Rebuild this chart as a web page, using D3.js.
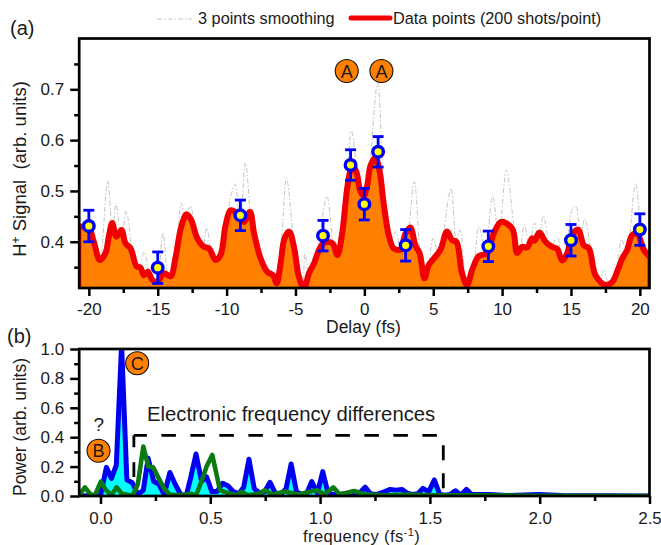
<!DOCTYPE html>
<html>
<head>
<meta charset="utf-8">
<script src="https://cdn.jsdelivr.net/npm/d3@7"></script>
<style>
body{margin:0;background:#fff;}
text{font-family:"Liberation Sans",Arial,sans-serif;fill:#1a1a1a;}
</style>
</head>
<body>
<div id="chart"></div>
<script>
// panel (a): data points
var redDelay = [-20.73,-20,-19.64,-19.2,-18.79,-18.55,-18.3,-18,-17.63,-17.34,-16.97,-16.54,-16.25,-16,-15.71,-15.4,-15.04,-14.55,-14.07,-13.7,-13.29,-12.9,-12.57,-12.13,-11.65,-11.28,-10.8,-10.44,-10.07,-9.71,-9.23,-8.74,-8.31,-8,-7.53,-7.05,-6.63,-6.37,-6.08,-5.79,-5.45,-5.11,-4.75,-4.38,-4.02,-3.66,-3.29,-2.93,-2.32,-1.96,-1.62,-1.26,-1,-0.8,-0.55,-0.3,-0.05,0.2,0.45,0.8,1.1,1.4,1.77,2.13,2.62,2.98,3.34,3.7,4.02,4.36,4.67,5.04,5.52,6,6.37,6.68,7.09,7.46,7.82,8.31,8.91,9.39,9.93,10.73,11.09,11.45,11.82,12.18,12.35,12.71,13.15,13.63,14,14.36,14.72,15.08,15.52,15.93,16.3,16.78,17.51,18,18.35,18.72,19.08,19.44,19.81,20.29,20.73];
var redSignal = [0.43,0.426,0.4,0.364,0.378,0.41,0.437,0.41,0.423,0.397,0.387,0.352,0.349,0.334,0.341,0.325,0.321,0.338,0.332,0.37,0.43,0.454,0.443,0.407,0.39,0.387,0.364,0.374,0.433,0.462,0.456,0.439,0.459,0.416,0.367,0.341,0.334,0.318,0.357,0.407,0.42,0.39,0.331,0.308,0.338,0.357,0.384,0.398,0.397,0.374,0.415,0.502,0.541,0.548,0.535,0.5,0.49,0.51,0.55,0.566,0.54,0.476,0.413,0.387,0.385,0.416,0.428,0.393,0.377,0.328,0.354,0.367,0.384,0.42,0.403,0.4,0.338,0.315,0.344,0.372,0.377,0.416,0.439,0.426,0.378,0.39,0.389,0.407,0.402,0.418,0.4,0.39,0.386,0.363,0.377,0.413,0.424,0.393,0.387,0.334,0.315,0.321,0.341,0.367,0.384,0.413,0.416,0.384,0.37];
var grayDelay = [-20.73,-20.63,-20.2,-19.2,-18.62,-18.3,-18.02,-17.65,-17.3,-16.8,-16.4,-15.99,-15.5,-15,-14.63,-14.2,-13.7,-13.3,-12.95,-12.63,-12.1,-11.75,-11.44,-11,-10.4,-9.9,-9.36,-9,-8.64,-8.2,-7.6,-6.6,-6.1,-5.66,-5.2,-4.75,-4.45,-4.33,-4,-3.4,-2.71,-2.2,-1.96,-1.4,-0.94,-0.4,0,0.4,0.97,1.5,1.9,2.25,2.7,3.2,3.63,4.1,4.5,4.99,5.4,6.32,6.65,6.97,7.4,7.9,8.3,8.8,9.32,9.75,10.31,10.9,11.2,11.62,11.95,12.35,12.65,12.98,13.5,14.04,14.4,15.08,15.38,15.7,16,16.5,17,17.38,17.8,18.3,18.64,19.1,19.68,20.2,20.73];
var graySignal = [0.42,0.449,0.4,0.35,0.521,0.42,0.476,0.4,0.461,0.37,0.34,0.38,0.32,0.31,0.418,0.32,0.36,0.476,0.44,0.471,0.39,0.38,0.427,0.36,0.36,0.46,0.513,0.44,0.556,0.43,0.35,0.32,0.37,0.525,0.42,0.32,0.31,0.378,0.33,0.38,0.489,0.38,0.36,0.47,0.618,0.5,0.47,0.55,0.712,0.45,0.39,0.42,0.38,0.42,0.518,0.36,0.33,0.407,0.37,0.505,0.4,0.423,0.31,0.34,0.43,0.38,0.492,0.41,0.541,0.42,0.37,0.433,0.39,0.437,0.4,0.451,0.39,0.41,0.35,0.462,0.47,0.41,0.446,0.37,0.32,0.344,0.31,0.33,0.405,0.38,0.515,0.39,0.36];
var markerDelay = [-20,-15,-9,-3,-1,0,1,3,9,15,20];
var markerSignal = [0.431,0.349,0.452,0.412,0.551,0.474,0.577,0.393,0.391,0.403,0.424];
var markerErr = [0.031,0.031,0.03,0.03,0.03,0.031,0.03,0.031,0.03,0.031,0.031];

// panel (b): spectra
var blueFreq = [-0.1,0,0.027,0.05,0.072,0.096,0.12,0.145,0.17,0.195,0.217,0.242,0.266,0.29,0.316,0.34,0.365,0.39,0.41,0.435,0.46,0.483,0.507,0.53,0.556,0.58,0.605,0.63,0.652,0.676,0.7,0.725,0.748,0.772,0.796,0.82,0.845,0.868,0.892,0.916,0.94,0.962,0.988,1.012,1.036,1.06,1.085,1.11,1.157,1.18,1.205,1.23,1.255,1.295,1.319,1.345,1.372,1.396,1.42,1.445,1.468,1.495,1.52,1.545,1.57,1.592,1.616,1.64,1.666,1.69,1.77,1.85,1.995,2.1,2.5];
var bluePower = [0,0.005,0.195,0.12,0.21,1.03,0.11,0.09,0.01,0.04,0.257,0.1,0.08,0.01,0.16,0.08,0.01,0,0.12,0.286,0.1,0.13,0.03,0.03,0.086,0.07,0.03,0.015,0.06,0.25,0.05,0.02,0.03,0.093,0.02,0.01,0.05,0.218,0.03,0.01,0.02,0.098,0.02,0.166,0.02,0.01,0.01,0.015,0.01,0.02,0.06,0.015,0.01,0.03,0.045,0.04,0.045,0.02,0.01,0.015,0.052,0.03,0.109,0.01,0.005,0.01,0.036,0.005,0.045,0.01,0.01,0.004,0.01,0.003,0];
var greenFreq = [-0.1,-0.071,-0.045,-0.025,0.0015,0.025,0.05,0.073,0.097,0.12,0.145,0.17,0.195,0.218,0.24,0.265,0.29,0.315,0.36,0.41,0.435,0.46,0.483,0.509,0.544,0.58,0.62,0.643,0.67,0.72,0.749,0.78,0.84,0.9,0.985,1.02,1.06,1.09,1.155,1.2,1.3,1.4,1.5,1.7,2,2.5];
var greenPower = [0,0.059,0.01,0.005,0.098,0.04,0.005,0.059,0.015,0.01,0,0.08,0.336,0.2,0.195,0.12,0.05,0.01,0.005,0.015,0.005,0.1,0.2,0.279,0.04,0.02,0.005,0.03,0.005,0.015,0.04,0.01,0.03,0.01,0.04,0.012,0.059,0.01,0.034,0.012,0.005,0.01,0.005,0.005,0.002,0];

// tick labels
var xTicksA = [-20,-15,-10,-5,0,5,10,15,20];
var xMinorA = [-17.5,-12.5,-7.5,-2.5,2.5,7.5,12.5,17.5];
var yTicksA = [0.4,0.5,0.6,0.7];
var yMinorA = [0.35,0.45,0.55,0.65,0.75];
var xTicksB = [0,0.5,1,1.5,2,2.5];
var xMinorB = [0.25,0.75,1.25,1.75,2.25];
var yTicksB = [0,0.2,0.4,0.6,0.8,1];
var yMinorB = [0.1,0.3,0.5,0.7,0.9];

// circled letters and the dashed bracket, in data units
var labelsA = [{t:"A",x:-1.28,y:0.736},{t:"A",x:1.24,y:0.736}];
var labelsB = [{t:"B",x:-0.009,y:0.308},{t:"C",x:0.167,y:0.903}];
var bracketLeftF = 0.152, bracketRightF = 1.561, bracketTop = 0.413, bracketLeftEnd = 0.13, bracketRightEnd = 0.05;

var w = 661, h = 545;
var svg = d3.select("#chart").append("svg").attr("width",w).attr("height",h).style("display","block");
var orange = "#ff8000";

var xa = d3.scaleLinear().domain([-20.7,20.7]).range([79.2,649.5]);
var ya = d3.scaleLinear().domain([0.309,0.8]).range([288,38.5]);
var xb = d3.scaleLinear().domain([-0.097,2.5]).range([79.2,649.5]);
var yb = d3.scaleLinear().domain([0,1]).range([496,349]);

var defs = svg.append("defs");
defs.append("clipPath").attr("id","clipA").append("rect").attr("x",79.2).attr("y",38.5).attr("width",570.3).attr("height",249.5);
defs.append("clipPath").attr("id","clipB").append("rect").attr("x",79.2).attr("y",349).attr("width",570.3).attr("height",147);

function pairs(a,b){ return a.map(function(d,i){ return [d,b[i]]; }); }

function drawAxes(x,y,xT,xM,yT,yM,fmtX,labelPad){
	var top = y.range()[1], bottom = y.range()[0];
	var ax = svg.append("g").attr("class","axis");
	ax.append("g").attr("transform","translate(0,"+bottom+")")
		.call(d3.axisBottom(x).tickValues(xT).tickSize(8).tickPadding(labelPad).tickFormat(fmtX));
	ax.append("g").attr("transform","translate(0,"+bottom+")")
		.call(d3.axisBottom(x).tickValues(xM).tickSize(5).tickFormat(""));
	ax.append("g").attr("transform","translate("+x.range()[0]+",0)")
		.call(d3.axisLeft(y).tickValues(yT).tickSize(9).tickPadding(6).tickFormat(d3.format(".1f")));
	ax.append("g").attr("transform","translate("+x.range()[0]+",0)")
		.call(d3.axisLeft(y).tickValues(yM).tickSize(5).tickFormat(""));
	ax.selectAll(".domain").remove();
	ax.selectAll("line").attr("stroke","#000").attr("stroke-width",2.5);
	ax.selectAll("text").attr("font-size",17).attr("fill","#1a1a1a").attr("font-family",'"Liberation Sans",Arial,sans-serif');
	svg.append("rect").attr("x",x.range()[0]).attr("y",top)
		.attr("width",x.range()[1]-x.range()[0]).attr("height",bottom-top)
		.attr("fill","none").attr("stroke","#000").attr("stroke-width",2.7);
}

function circled(list,x,y){
	var g = svg.append("g").selectAll("g").data(list).enter().append("g")
		.attr("transform",function(d){ return "translate("+x(d.x)+","+y(d.y)+")"; });
	g.append("circle").attr("r",11.5).attr("fill",orange).attr("stroke","#111").attr("stroke-width",1.1);
	g.append("text").attr("text-anchor","middle").attr("y",6.5).attr("font-size",18).text(function(d){ return d.t; });
}

// --- panel a ---
var redData = pairs(redDelay,redSignal);
var plotA = svg.append("g").attr("clip-path","url(#clipA)");
plotA.append("path").datum(pairs(grayDelay,graySignal))
	.attr("d",d3.line().x(function(d){return xa(d[0]);}).y(function(d){return ya(d[1]);}).curve(d3.curveMonotoneX))
	.attr("fill","none").attr("stroke","#c4c4c4").attr("stroke-width",1).attr("stroke-dasharray","5,2,1.5,2");
plotA.append("path").datum(redData)
	.attr("d",d3.area().x(function(d){return xa(d[0]);}).y0(ya(0.309)).y1(function(d){return ya(d[1]);}).curve(d3.curveCatmullRom))
	.attr("fill",orange);
plotA.append("path").datum(redData)
	.attr("d",d3.line().x(function(d){return xa(d[0]);}).y(function(d){return ya(d[1]);}).curve(d3.curveCatmullRom))
	.attr("fill","none").attr("stroke","#f00000").attr("stroke-width",6).attr("stroke-linejoin","round");
// the outline also drops down both edges of the frame
[[redDelay[0],redSignal[0]],[redDelay[redDelay.length-1],redSignal[redSignal.length-1]]].forEach(function(e){
	plotA.append("line").attr("x1",xa(e[0])).attr("x2",xa(e[0])).attr("y1",ya(e[1])).attr("y2",ya(0.309))
		.attr("stroke","#f00000").attr("stroke-width",5);
});

// plain hyphen on the negative delays, as in the original
drawAxes(xa,ya,xTicksA,xMinorA,yTicksA,yMinorA,function(d){ return String(d); },6.5);

var mk = svg.append("g").selectAll("g").data(markerDelay).enter().append("g");
mk.append("line")
	.attr("x1",function(d){return xa(d);}).attr("x2",function(d){return xa(d);})
	.attr("y1",function(d,i){return ya(markerSignal[i]+markerErr[i]);})
	.attr("y2",function(d,i){return ya(markerSignal[i]-markerErr[i]);})
	.attr("stroke","#0000ff").attr("stroke-width",2.8);
[1,-1].forEach(function(s){
	mk.append("line")
		.attr("x1",function(d){return xa(d)-5.5;}).attr("x2",function(d){return xa(d)+5.5;})
		.attr("y1",function(d,i){return ya(markerSignal[i]+s*markerErr[i]);})
		.attr("y2",function(d,i){return ya(markerSignal[i]+s*markerErr[i]);})
		.attr("stroke","#0000ff").attr("stroke-width",2.8);
});
mk.append("circle")
	.attr("cx",function(d){return xa(d);}).attr("cy",function(d,i){return ya(markerSignal[i]);})
	.attr("r",5.3).attr("fill","#ffff00").attr("stroke","#0000ff").attr("stroke-width",3.4);

circled(labelsA,xa,ya);

// legend
svg.append("line").attr("x1",157).attr("x2",192).attr("y1",19).attr("y2",19)
	.attr("stroke","#c4c4c4").attr("stroke-width",1).attr("stroke-dasharray","5,2,1.5,2");
svg.append("text").attr("x",198).attr("y",24).attr("font-size",16.3).text("3 points smoothing");
svg.append("line").attr("x1",351).attr("x2",390).attr("y1",18).attr("y2",18)
	.attr("stroke","#f00000").attr("stroke-width",5).attr("stroke-linecap","round");
svg.append("text").attr("x",393).attr("y",24).attr("font-size",16.3).text("Data points (200 shots/point)");

svg.append("text").attr("x",10).attr("y",35).attr("font-size",20).text("(a)");
svg.append("text").attr("x",326).attr("y",333).attr("font-size",17.5).text("Delay (fs)");

var yla = svg.append("text").attr("transform","translate(26,169) rotate(-90)").attr("text-anchor","middle").attr("font-size",18.5).attr("xml:space","preserve");
yla.append("tspan").text("H");
yla.append("tspan").attr("font-size",12).attr("dy",-6).text("+");
yla.append("tspan").attr("dy",6).text(" Signal  (arb. units)");

// --- panel b ---
var blueData = pairs(blueFreq,bluePower);
var plotB = svg.append("g").attr("clip-path","url(#clipB)");
plotB.append("path").datum(blueData)
	.attr("d",d3.area().x(function(d){return xb(d[0]);}).y0(yb(0)).y1(function(d){return yb(d[1]);}))
	.attr("fill","#00ffff");
plotB.append("path").datum(blueData)
	.attr("d",d3.line().x(function(d){return xb(d[0]);}).y(function(d){return yb(d[1]);}))
	.attr("fill","none").attr("stroke","#0000f0").attr("stroke-width",5).attr("stroke-linejoin","round");
plotB.append("path").datum(pairs(greenFreq,greenPower))
	.attr("d",d3.line().x(function(d){return xb(d[0]);}).y(function(d){return yb(d[1]);}))
	.attr("fill","none").attr("stroke","#0b7a12").attr("stroke-width",4.6).attr("stroke-linejoin","round");

drawAxes(xb,yb,xTicksB,xMinorB,yTicksB,yMinorB,d3.format(".1f"),7.5);

circled(labelsB,xb,yb);

// bracket, each leg dashed away from the corner
var bracket = svg.append("g").attr("fill","none").attr("stroke","#000").attr("stroke-width",2.8);
bracket.append("line").attr("x1",xb(bracketLeftF)).attr("x2",xb(bracketLeftF)).attr("y1",yb(bracketTop)).attr("y2",yb(bracketLeftEnd))
	.attr("stroke-dasharray","12,15,15,100");
bracket.append("line").attr("x1",xb(bracketLeftF)).attr("x2",xb(bracketRightF)-4).attr("y1",yb(bracketTop)).attr("y2",yb(bracketTop))
	.attr("stroke-dasharray","14.5,14.5").attr("stroke-dashoffset",1.5);
bracket.append("line").attr("x1",xb(bracketRightF)).attr("x2",xb(bracketRightF)).attr("y1",yb(bracketTop)+10).attr("y2",yb(bracketRightEnd))
	.attr("stroke-dasharray","15,13,15,100");

svg.append("text").attr("x",147).attr("y",421).attr("font-size",20.3).text("Electronic frequency differences");
svg.append("text").attr("x",98.7).attr("y",431).attr("text-anchor","middle").attr("font-size",19).text("?");
svg.append("text").attr("x",7).attr("y",343).attr("font-size",20).text("(b)");

svg.append("text").attr("transform","translate(26,427) rotate(-90)").attr("text-anchor","middle").attr("font-size",17.5).text("Power (arb. units)");

var xlb = svg.append("text").attr("x",303).attr("y",542).attr("font-size",16.5).attr("letter-spacing",0.4);
xlb.append("tspan").text("frequency (fs");
xlb.append("tspan").attr("font-size",11).attr("dy",-6).text("-1");
xlb.append("tspan").attr("dy",6).text(")");
</script>
</body>
</html>
